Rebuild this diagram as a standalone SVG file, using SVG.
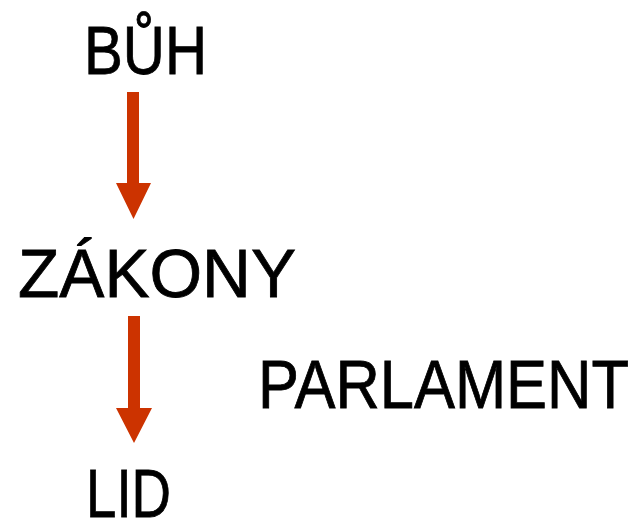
<svg xmlns="http://www.w3.org/2000/svg" width="634" height="523" viewBox="0 0 634 523">
<style>
.t{font-family:"Liberation Sans","DejaVu Sans",sans-serif;font-size:68px;fill:#000;stroke:#000;stroke-width:0.8}
.a{fill:#CC3300}
</style>
<rect width="634" height="523" fill="#fff"/>
<g id="connectors">
<path class="a" d="M127,92 H139 V183 H151 L133.5,219 L116,183 H127 Z"/>
<path class="a" d="M128,316 H140 V408 H152 L134,443 L116,408 H128 Z"/>
</g>
<g id="buh"><text class="t" x="84" y="74" textLength="123" lengthAdjust="spacingAndGlyphs">BŮH</text></g>
<g id="zakony"><text class="t" x="18" y="297" textLength="278" lengthAdjust="spacingAndGlyphs">ZÁKONY</text></g>
<g id="parlament"><text class="t" x="258" y="408" textLength="371" lengthAdjust="spacingAndGlyphs">PARLAMENT</text></g>
<g id="lid"><text class="t" x="86" y="517" textLength="85" lengthAdjust="spacingAndGlyphs">LID</text></g>
</svg>
